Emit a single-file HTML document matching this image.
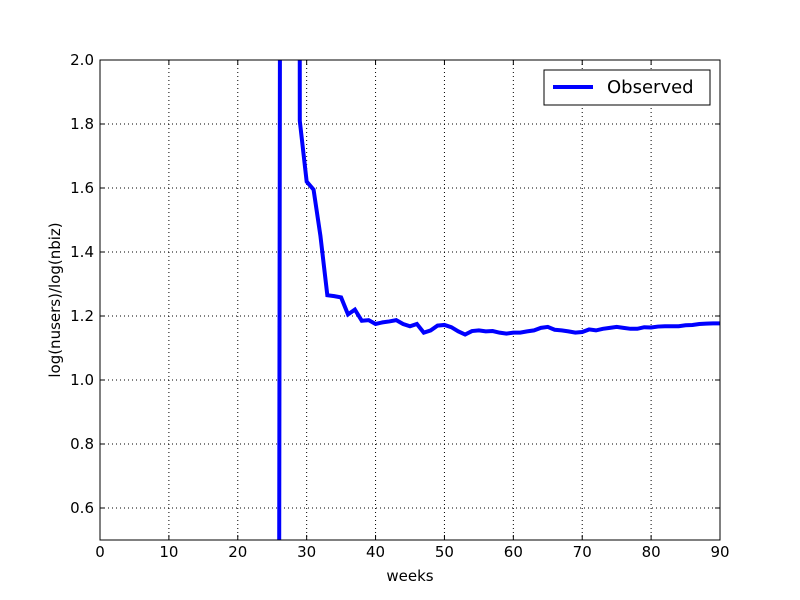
<!DOCTYPE html>
<html><head><meta charset="utf-8"><style>
html,body{margin:0;padding:0;background:#fff;width:800px;height:600px;overflow:hidden;}
svg{display:block;}
text{font-family:"DejaVu Sans","Liberation Sans",sans-serif;}
</style></head><body>
<svg id="chart" width="800" height="600" xmlns="http://www.w3.org/2000/svg">
<defs><clipPath id="clip"><rect x="100" y="60" width="620" height="480"/></clipPath></defs>
<rect x="0" y="0" width="800" height="600" fill="#fff"/>
<g id="grid"></g>
<g id="series" clip-path="url(#clip)"></g>
<rect x="100" y="60" width="620" height="480" fill="none" stroke="#000" stroke-width="1"/>
<g id="ticks"></g>
<text x="410" y="581" font-size="15" text-anchor="middle">weeks</text>
<text x="60" y="300" font-size="15" text-anchor="middle" transform="rotate(-90 60 300)">log(nusers)/log(nbiz)</text>
<g>
<rect x="544" y="70" width="166" height="35" fill="#fff" stroke="#000" stroke-width="1"/>
<line x1="553" y1="87" x2="593" y2="87" stroke="#0000ff" stroke-width="4"/>
<text x="607" y="93" font-size="18">Observed</text>
</g>
</svg>
<script>
const weeks=[26,27,28,29,30,31,32,33,34,35,36,37,38,39,40,41,42,43,44,45,46,47,48,49,50,51,52,53,54,55,56,57,58,59,60,61,62,63,64,65,66,67,68,69,70,71,72,73,74,75,76,77,78,79,80,81,82,83,84,85,86,87,88,89,90];
const observed=[0.3,15,60,1.81,1.62,1.595,1.45,1.265,1.262,1.258,1.205,1.22,1.185,1.187,1.175,1.18,1.183,1.187,1.175,1.168,1.175,1.148,1.155,1.17,1.172,1.165,1.152,1.142,1.153,1.155,1.152,1.153,1.148,1.145,1.148,1.148,1.152,1.155,1.163,1.166,1.157,1.155,1.152,1.148,1.15,1.158,1.155,1.16,1.163,1.166,1.163,1.16,1.16,1.165,1.164,1.167,1.168,1.168,1.168,1.171,1.172,1.175,1.176,1.177,1.177];
const xTicks=[0,10,20,30,40,50,60,70,80,90];
const yTicks=[0.6,0.8,1.0,1.2,1.4,1.6,1.8,2.0];
const yLabels=["0.6","0.8","1.0","1.2","1.4","1.6","1.8","2.0"];
const X=v=>100+(v-0)/90*620;
const Y=v=>540-(v-0.5)/1.5*480;
const NS="http://www.w3.org/2000/svg";
const grid=document.getElementById('grid'),ticks=document.getElementById('ticks'),series=document.getElementById('series');
function mk(tag,attrs,parent){const e=document.createElementNS(NS,tag);for(const k in attrs)e.setAttribute(k,attrs[k]);parent.appendChild(e);return e;}
xTicks.forEach(t=>{
  const x=X(t);
  if(t>0&&t<90){const g=mk('line',{x1:x,y1:60,x2:x,y2:540,stroke:'#000','stroke-dasharray':'1,3','stroke-width':1},grid);
  
  }
  mk('line',{x1:x,y1:540,x2:x,y2:535,stroke:'#000'},ticks);
  mk('line',{x1:x,y1:60,x2:x,y2:65,stroke:'#000'},ticks);
  const tx=mk('text',{x:x,y:557,'font-size':15,'text-anchor':'middle'},ticks);
  tx.textContent=t;
  
  
});
yTicks.forEach((t,i)=>{
  const y=Y(t);
  if(t<2.0){const g=mk('line',{x1:100,y1:y,x2:720,y2:y,stroke:'#000','stroke-dasharray':'1,3','stroke-width':1},grid);
  
  }
  mk('line',{x1:100,y1:y,x2:105,y2:y,stroke:'#000'},ticks);
  mk('line',{x1:720,y1:y,x2:715,y2:y,stroke:'#000'},ticks);
  const tx=mk('text',{x:94,y:y+5,'font-size':15,'text-anchor':'end'},ticks);
  tx.textContent=yLabels[i];
  
  
});
const pts=weeks.map((w,i)=>X(w).toFixed(2)+','+Y(observed[i]).toFixed(2)).join(' ');
const pl=mk('polyline',{points:pts,fill:'none',stroke:'#0000ff','stroke-width':4,'stroke-linejoin':'miter'},series);


</script>
</body></html>
